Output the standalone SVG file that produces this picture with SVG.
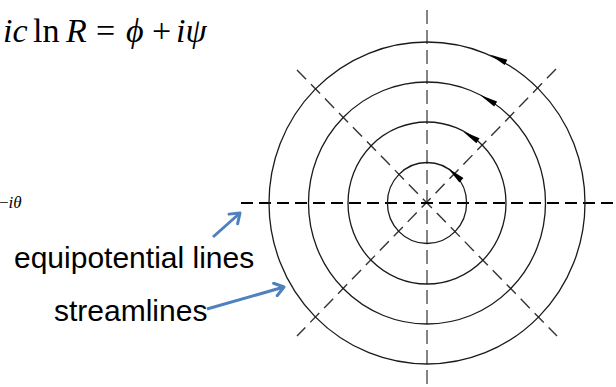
<svg xmlns="http://www.w3.org/2000/svg" width="616" height="387" viewBox="0 0 616 387">
<style>
.math{font-family:"Liberation Serif","DejaVu Serif",serif;fill:#000}
.it{font-style:italic}
.lbl{font-family:"Liberation Sans",Arial,sans-serif;font-size:30px;fill:#000}
.circ{fill:none;stroke:#1a1a1a;stroke-width:1.3}
.axh{stroke:#000;stroke-width:2;stroke-dasharray:12 6;fill:none}
.axv{stroke:#666;stroke-width:1.6;stroke-dasharray:14 6;fill:none}
.axd{stroke:#333;stroke-width:1.4;stroke-dasharray:13 7;fill:none}
.blue{stroke:#4f81bd;stroke-width:3;fill:none;marker-end:url(#chev)}
.ah{fill:#000}
</style>
<defs>
<marker id="chev" markerUnits="userSpaceOnUse" markerWidth="16" markerHeight="16" refX="12" refY="8" orient="auto" viewBox="0 0 16 16">
<path d="M3,1.5 L12,8 L3,14.5" fill="none" stroke="#4f81bd" stroke-width="3" stroke-linecap="round" stroke-linejoin="round"/>
</marker>
<polygon id="head" points="8,0 -10,-3 -10,3"/>
</defs>
<g id="equation">
<text class="math" font-size="34" y="42"><tspan class="it" x="3">ic</tspan><tspan x="33">ln</tspan><tspan class="it" x="66">R</tspan><tspan x="96">=</tspan><tspan class="it" x="126">ϕ</tspan><tspan x="152">+</tspan><tspan class="it" x="176">iψ</tspan></text>
</g>
<g id="exp-fragment">
<text class="math" font-size="17" x="-1" y="208"><tspan>−</tspan><tspan class="it">iθ</tspan></text>
</g>
<g id="connectors">
<line class="axv" x1="427" y1="10" x2="427" y2="387"/>
<line class="axd" x1="297" y1="70" x2="557" y2="336"/>
<line class="axd" x1="556" y1="69" x2="297" y2="336"/>
<line class="axh" x1="241" y1="203" x2="616" y2="203"/>
<line class="blue" x1="213" y1="237" x2="240" y2="213"/>
<line class="blue" x1="207" y1="309" x2="284" y2="287"/>
</g>
<g id="streamlines">
<ellipse class="circ" cx="427" cy="203" rx="158" ry="161"/>
<ellipse class="circ" cx="427" cy="203" rx="118.5" ry="121"/>
<ellipse class="circ" cx="427" cy="203" rx="79" ry="81"/>
<ellipse class="circ" cx="427" cy="203" rx="39.6" ry="40.5"/>
<use href="#head" class="ah" transform="translate(497,58) rotate(206)"/>
<use href="#head" class="ah" transform="translate(487,99) rotate(210)"/>
<use href="#head" class="ah" transform="translate(469.5,135.5) rotate(212)"/>
<use href="#head" class="ah" transform="translate(454,173.5) rotate(222)"/>
</g>
<g id="label-equipotential">
<text class="lbl" x="14" y="268">equipotential lines</text>
</g>
<g id="label-streamlines">
<text class="lbl" x="54" y="321">streamlines</text>
</g>
</svg>
